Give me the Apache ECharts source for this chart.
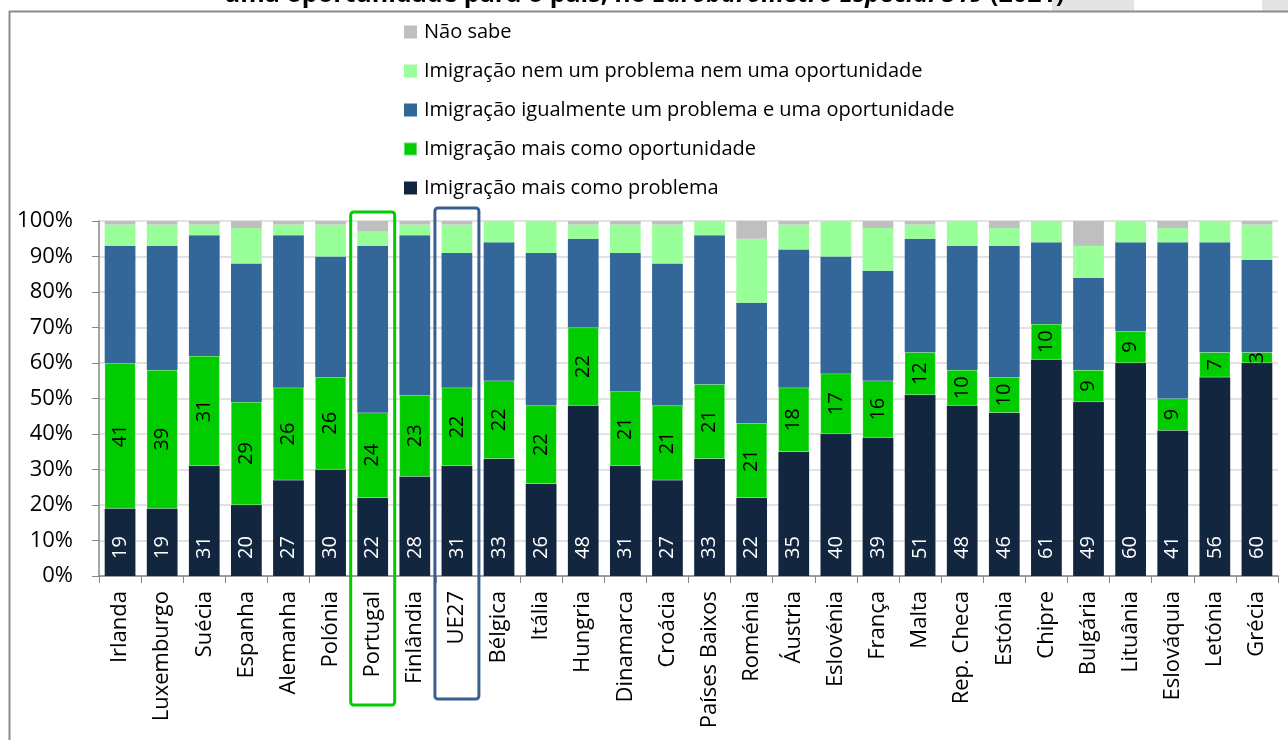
<!DOCTYPE html>
<html>
<head>
<meta charset="utf-8">
<script src="https://cdn.jsdelivr.net/npm/echarts@6/dist/echarts.min.js"></script>
<style>
  html, body { margin: 0; padding: 0; background: #fff; }
  #main { width: 1288px; height: 740px; }
</style>
</head>
<body>
<div id="main"></div>
<script>
var paises = ['Irlanda', 'Luxemburgo', 'Suécia', 'Espanha', 'Alemanha', 'Polónia', 'Portugal', 'Finlândia', 'UE27',
  'Bélgica', 'Itália', 'Hungria', 'Dinamarca', 'Croácia', 'Países Baixos', 'Roménia', 'Áustria', 'Eslovénia',
  'França', 'Malta', 'Rep. Checa', 'Estónia', 'Chipre', 'Bulgária', 'Lituânia', 'Eslováquia', 'Letónia', 'Grécia'];

var maisProblema     = [19, 19, 31, 20, 27, 30, 22, 28, 31, 33, 26, 48, 31, 27, 33, 22, 35, 40, 39, 51, 48, 46, 61, 49, 60, 41, 56, 60];
var maisOportunidade = [41, 39, 31, 29, 26, 26, 24, 23, 22, 22, 22, 22, 21, 21, 21, 21, 18, 17, 16, 12, 10, 10, 10, 9, 9, 9, 7, 3];
var igualmente       = [33, 35, 34, 39, 43, 34, 47, 45, 38, 39, 43, 25, 39, 40, 42, 34, 39, 33, 31, 32, 35, 37, 23, 26, 25, 44, 31, 26];
var nemNem           = [6, 6, 3, 10, 3, 9, 4, 3, 8, 6, 9, 4, 8, 11, 4, 18, 7, 10, 12, 4, 7, 5, 6, 9, 6, 4, 6, 10];
var naoSabe          = [1, 1, 1, 2, 1, 1, 3, 1, 1, 0, 0, 1, 1, 1, 0, 5, 1, 0, 2, 1, 0, 2, 0, 7, 0, 2, 0, 1];

var nomes = ['Imigração mais como problema', 'Imigração mais como oportunidade',
  'Imigração igualmente um problema e uma oportunidade', 'Imigração nem um problema nem uma oportunidade', 'Não sabe'];

var FONT = 'Open Sans';

var chart = echarts.init(document.getElementById('main'));

var option = {
  animation: false,
  color: ['#13263F', '#00CC00', '#336699', '#99FF99', '#BFBFBF'],
  legend: {
    orient: 'vertical',
    left: 398,
    top: 17,
    itemWidth: 13,
    itemHeight: 13,
    itemGap: 19,
    icon: 'rect',
    data: nomes.slice().reverse(),
    textStyle: { fontFamily: FONT, fontSize: 20, color: '#000', padding: [0, 0, 0, 2] }
  },
  grid: { left: 99, right: 10, top: 221, bottom: 164 },
  xAxis: {
    type: 'category',
    data: paises,
    axisLine: { lineStyle: { color: '#868686', width: 1.5 } },
    axisTick: { show: true, interval: 0, length: 7, lineStyle: { color: '#868686' } },
    axisLabel: { interval: 0, rotate: 90, fontFamily: FONT, fontSize: 22, color: '#000', margin: 15 }
  },
  yAxis: {
    type: 'value',
    min: 0,
    max: 100,
    interval: 10,
    axisLine: { show: true, lineStyle: { color: '#868686', width: 1.5 } },
    axisTick: { show: true, length: 7, lineStyle: { color: '#868686' } },
    splitLine: { lineStyle: { color: '#D9D9D9', width: 1.5 } },
    axisLabel: { formatter: '{value}%', fontFamily: FONT, fontSize: 22, color: '#000', margin: 26 }
  },
  series: [
    {
      name: nomes[0], type: 'bar', stack: 'total', barCategoryGap: '27%', data: maisProblema,
      label: {
        show: true, position: 'insideBottom', rotate: 90, align: 'left', verticalAlign: 'middle',
        distance: 17, color: '#fff', fontFamily: FONT, fontSize: 20
      }
    },
    {
      name: nomes[1], type: 'bar', stack: 'total', data: maisOportunidade,
      itemStyle: { borderColor: 'rgba(255,255,255,0.4)', borderWidth: 0.5 },
      label: {
        show: true, position: 'inside', rotate: 90, align: 'center', verticalAlign: 'middle',
        color: '#000', fontFamily: FONT, fontSize: 20
      }
    },
    { name: nomes[2], type: 'bar', stack: 'total', data: igualmente },
    { name: nomes[3], type: 'bar', stack: 'total', data: nemNem },
    { name: nomes[4], type: 'bar', stack: 'total', data: naoSabe }
  ]
};

chart.setOption(option);

// caixas de destaque (Portugal e UE27) e moldura
function caixa(cat, cor, topoExtra, fundo) {
  var cx = chart.convertToPixel({ xAxisIndex: 0 }, cat);
  var y100 = chart.convertToPixel({ yAxisIndex: 0 }, 100);
  return {
    type: 'rect',
    shape: { x: cx - 22, y: y100 - topoExtra, width: 44, height: fundo - (y100 - topoExtra), r: 3 },
    style: { fill: 'none', stroke: cor, lineWidth: 3 },
    z: 100
  };
}

chart.setOption({
  graphic: [
    { type: 'rect', shape: { x: 1052, y: 0, width: 82, height: 11 }, style: { fill: '#E4E4E4' }, z: 1 },
    { type: 'rect', shape: { x: 1262, y: 0, width: 26, height: 11 }, style: { fill: '#E4E4E4' }, z: 1 },
    {
      type: 'text', left: 'center', top: -18, z: 5,
      style: {
        text: '{n|uma oportunidade para o país, no }{i|Eurobarómetro Especial 519}{n| (2021)}',
        rich: {
          n: { fontFamily: FONT, fontSize: 25, fontWeight: 'bold', fill: '#000' },
          i: { fontFamily: FONT, fontSize: 25, fontWeight: 'bold', fontStyle: 'italic', fill: '#000' }
        }
      }
    },
    { type: 'line', shape: { x1: 9, y1: 11.5, x2: 1288, y2: 11.5 }, style: { stroke: '#8C8C8C', lineWidth: 2 }, z: 6 },
    { type: 'line', shape: { x1: 9.5, y1: 11, x2: 9.5, y2: 740 }, style: { stroke: '#8C8C8C', lineWidth: 2 }, z: 6 },
    caixa('Portugal', '#00CC00', 9, 705),
    caixa('UE27', '#3A5F8F', 13, 699)
  ]
});
</script>
</body>
</html>
